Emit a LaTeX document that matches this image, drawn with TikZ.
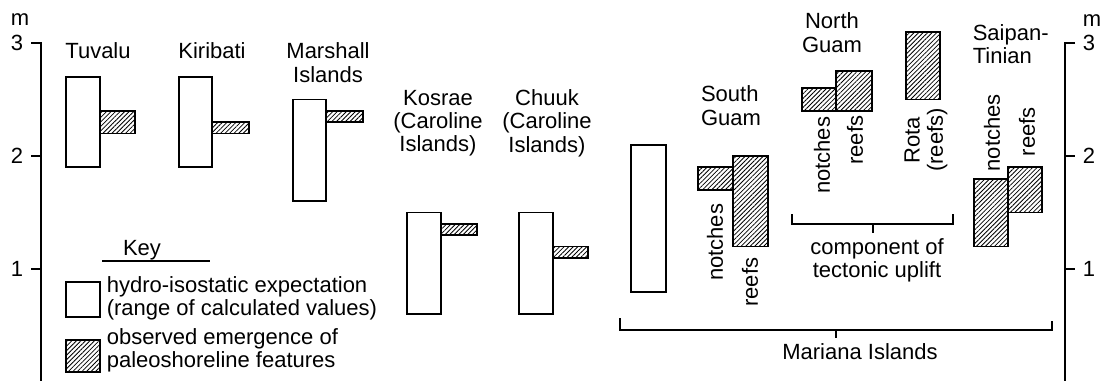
\documentclass[tikz,border=0pt]{standalone}
\usepackage{fontspec}
\setmainfont{Liberation Sans}
\usepackage{tikz}
\usetikzlibrary{patterns.meta}

\tikzset{
  calcbox/.style={draw, line width=0.9pt, fill=white},
  obsbox/.style={draw, line width=0.9pt, pattern={Lines[angle=45,distance=1.6pt,line width=0.4pt]}},
  site/.style={align=center, inner sep=0pt},
  vlabel/.style={rotate=90, inner sep=0pt},
}

\begin{document}
\begin{tikzpicture}[x=0.5pt, y=56.5pt, line width=0.8pt, font=\fontsize{11}{11.6}\selectfont]
    \useasboundingbox (0,0.0093) rectangle (1102,3.381);

    % 绘制坐标轴
    \draw (31,3) -- (41,3) -- (41,0.0093);
    \foreach \v in {1,2} \draw (31,\v) -- (41,\v);
    \foreach \v in {1,2,3} \node[anchor=east, inner sep=0pt] (ly\v) at (24,\v) {\v};
    \node (lm) at (20,3.204) {m};
    \draw (1075,3) -- (1065,3) -- (1065,0.0093);
    \foreach \v in {1,2} \draw (1065,\v) -- (1075,\v);
    \foreach \v in {1,2,3} \node[anchor=west, inner sep=0pt] (ry\v) at (1082,\v) {\v};
    \node (rm) at (1092,3.195) {m};

    % 岛名
    \node[site] (tuvalu) at (98,2.929) {Tuvalu};
    \node[site] (kiribati) at (212,2.929) {Kiribati};
    \node[site] (marshall) at (328,2.827) {Marshall\\Islands};
    \node[site] (kosrae) at (438,2.29) {Kosrae\\(Caroline\\Islands)};
    \node[site] (chuuk) at (547,2.29) {Chuuk\\(Caroline\\Islands)};
    \node[site, align=left] (sguam) at (731,2.447) {South\\Guam};
    \node[site] (nguam) at (832,3.093) {North\\Guam};
    \node[site, align=left, anchor=west] (saipan) at (972,2.987) {Saipan-\\Tinian};

    % 计算值
    \draw[calcbox] (66,1.9) rectangle (100,2.7);
    \draw[calcbox] (179,1.9) rectangle (212,2.7);
    \draw[calcbox] (293,1.6) rectangle (326,2.5);
    \draw[calcbox] (407,0.6) rectangle (441,1.5);
    \draw[calcbox] (519,0.6) rectangle (553,1.5);
    \draw[calcbox] (631,0.8) rectangle (666,2.1);

    % 观测值
    \draw[obsbox] (100,2.2) rectangle (135,2.4);
    \draw[obsbox] (212,2.2) rectangle (249,2.3);
    \draw[obsbox] (326,2.3) rectangle (363,2.4);
    \draw[obsbox] (441,1.3) rectangle (477,1.4);
    \draw[obsbox] (553,1.1) rectangle (588,1.2);
    \draw[obsbox] (698,1.7) rectangle (733,1.9);
    \draw[obsbox] (733,1.2) rectangle (768,2.0);
    \draw[obsbox] (802,2.4) rectangle (836,2.6);
    \draw[obsbox] (836,2.4) rectangle (872,2.75);
    \draw[obsbox] (906,2.5) rectangle (940,3.1);
    \draw[obsbox] (974,1.2) rectangle (1008,1.8);
    \draw[obsbox] (1008,1.5) rectangle (1042,1.9);

    \node[vlabel, anchor=east] (sgn) at (715,1.584) {notches};
    \node[vlabel, anchor=east] (sgr) at (750,1.106) {reefs};
    \node[vlabel, anchor=east] (ngn) at (822,2.354) {notches};
    \node[vlabel, anchor=east] (ngr) at (855,2.363) {reefs};
    \node[vlabel, align=center] (rota) at (926,2.142) {Rota\\(reefs)};
    \node[vlabel, anchor=west] (stn) at (992,1.858) {notches};
    \node[vlabel, anchor=west] (str) at (1027,1.991) {reefs};

    % 括号
    \draw (792,1.487) -- (792,1.398) -- (953,1.398) -- (953,1.487);
    \draw (873,1.398) -- (873,1.319);
    \node[site] (uplift) at (877,1.08) {component of\\tectonic uplift};
    \draw (620,0.566) -- (620,0.46) -- (1052,0.46) -- (1052,0.54);
    \draw (836,0.46) -- (836,0.389);
    \node[site] (mariana) at (860,0.265) {Mariana Islands};

    % 图例
    \node[site] (key) at (142,1.168) {Key};
    \draw (102,1.071) -- (210,1.071);
    \draw[calcbox] (66,0.575) rectangle (100,0.885);
    \node[site, align=left, anchor=west] (keycalc) at (106,0.743) {hydro-isostatic expectation\\(range of calculated values)};
    \draw[obsbox] (66,0.088) rectangle (100,0.372);
    \node[site, align=left, anchor=west] (keyobs) at (106,0.279) {observed emergence of\\paleoshoreline features};
\end{tikzpicture}
\end{document}
